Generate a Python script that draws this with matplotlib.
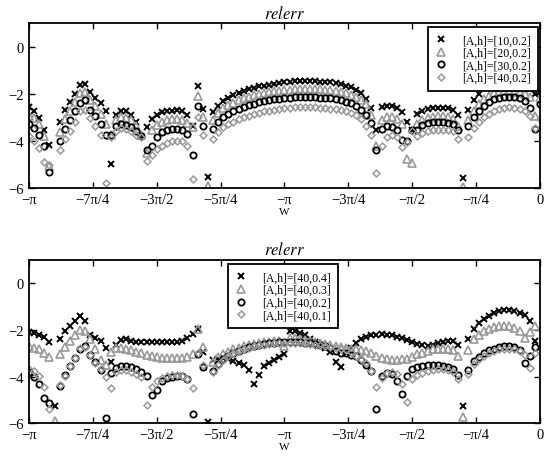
import numpy as np
import matplotlib
matplotlib.use('Agg')
import matplotlib.pyplot as plt

plt.rcParams['font.family'] = ['Liberation Serif', 'DejaVu Serif']
plt.rcParams['mathtext.fontset'] = 'stix'

nan = float('nan')
n_pts = 101
w = np.linspace(-2 * np.pi, 0, n_pts)

xtick_vals = [-2 * np.pi + k * np.pi / 4 for k in range(9)]
xtick_labels = ['−π', '−7π/4', '−3π/2', '−5π/4', '−π', '−3π/4', '−π/2', '−π/4', '0']
ytick_vals = [0, -2, -4, -6]
ytick_labels = ['0', '−2', '−4', '−6']

top_labels = ['[A,h]=[10,0.2]', '[A,h]=[20,0.2]', '[A,h]=[30,0.2]', '[A,h]=[40,0.2]']
bot_labels = ['[A,h]=[40,0.4]', '[A,h]=[40,0.3]', '[A,h]=[40,0.2]', '[A,h]=[40,0.1]']

# ---------------- top panel ----------------
top_A10 = [-2.57, -2.74, -3.02, -3.52, -4.17, nan, -3.18, -2.68, -2.34, -2.03,
           -1.62, -1.57, -1.93, -2.18, -2.41, -2.72, -4.99, -2.88, -2.71, -2.71,
           -2.92, -3.18, -3.8, -3.42, -3.06, -2.92, -2.78, -2.71, -2.71, -2.68,
           -2.74, -2.88, -3.35, -1.67, -2.64, -5.55, -2.78, -2.5, -2.3, -2.18,
           -2.07, -1.95, -1.87, -1.8, -1.74, -1.69, -1.65, -1.61, -1.57, -1.54,
           -1.51, -1.49, -1.47, -1.46, -1.46, -1.46, -1.47, -1.48, -1.5, -1.52,
           -1.55, -1.59, -1.65, -1.72, -1.82, -1.97, -2.22, -2.6, -3.55, -2.57,
           -2.5, -2.52, -2.62, -2.78, -3.2, -3.55, -2.85, -2.75, -2.66, -2.62,
           -2.6, -2.6, -2.62, -2.68, -2.9, -5.57, -2.68, -2.28, -2.0, -1.76,
           -1.6, -1.5, -1.45, -1.43, -1.43, -1.47, -1.55, -1.65, -1.8, -2.0,
           -1.93]
top_A20 = [-2.95, -3.03, -3.3, -3.78, -5.05, nan, -3.63, -3.06, -2.71, -2.35,
           -1.97, -1.93, -2.26, -2.5, -2.85, -3.28, -3.75, -3.13, -2.99, -3.03,
           -3.13, -3.35, -3.77, -4.5, -3.55, -3.32, -3.18, -3.1, -3.08, -3.08,
           -3.1, -3.25, -3.4, -2.11, -3.0, -5.9, -3.13, -2.8, -2.6, -2.48,
           -2.38, -2.28, -2.2, -2.13, -2.07, -2.02, -1.98, -1.94, -1.9, -1.87,
           -1.84, -1.82, -1.8, -1.79, -1.79, -1.79, -1.8, -1.81, -1.83, -1.85,
           -1.88, -1.92, -1.97, -2.04, -2.12, -2.25, -2.45, -2.9, -4.2, -3.1,
           -2.98, -2.98, -3.05, -3.3, -4.78, -4.95, -3.3, -3.1, -3.02, -2.98,
           -2.96, -2.96, -2.98, -3.05, -3.35, -5.95, -3.1, -2.72, -2.42, -2.22,
           -2.08, -1.98, -1.93, -1.9, -1.9, -1.92, -1.95, -2.0, -2.15, -2.95,
           -2.2]
top_A30 = [-3.28, -3.46, -3.73, -4.2, -5.33, nan, -4.0, -3.49, -3.13, -2.75,
           -2.38, -2.28, -2.67, -2.95, -3.28, -3.77, -3.74, -3.38, -3.28, -3.32,
           -3.42, -3.56, -3.8, -4.4, -4.2, -3.82, -3.63, -3.53, -3.49, -3.49,
           -3.52, -3.7, -4.6, -2.5, -3.38, nan, -3.49, -3.2, -3.0, -2.86,
           -2.75, -2.65, -2.56, -2.49, -2.42, -2.37, -2.32, -2.28, -2.24, -2.21,
           -2.19, -2.17, -2.15, -2.14, -2.14, -2.14, -2.15, -2.16, -2.18, -2.2,
           -2.23, -2.27, -2.33, -2.4, -2.5, -2.68, -2.92, -3.25, -4.4, -3.5,
           -3.38, -3.42, -3.52, -3.94, -3.99, -3.55, -3.55, -3.32, -3.25, -3.21,
           -3.2, -3.2, -3.22, -3.28, -3.55, nan, -3.38, -3.0, -2.72, -2.5,
           -2.35, -2.24, -2.17, -2.14, -2.14, -2.15, -2.2, -2.3, -2.6, -3.49,
           -2.43]
top_A40 = [-3.78, -3.99, -4.28, -4.9, -5.02, nan, -4.38, -3.91, -3.56, -3.2,
           -2.75, -2.67, -3.03, -3.38, -3.77, -5.79, -3.85, -3.56, -3.46, -3.49,
           -3.6, -3.74, -3.84, -4.85, -4.6, -4.35, -4.2, -4.08, -4.0, -3.99,
           -4.02, -4.2, -5.6, -3.0, -3.77, nan, -3.9, -3.62, -3.43, -3.3,
           -3.19, -3.09, -3.0, -2.93, -2.86, -2.8, -2.75, -2.71, -2.67, -2.64,
           -2.61, -2.59, -2.58, -2.57, -2.57, -2.57, -2.58, -2.59, -2.61, -2.63,
           -2.66, -2.7, -2.75, -2.82, -2.92, -3.08, -3.35, -3.75, -5.35, -4.2,
           -3.85, -3.75, -3.85, -4.25, -4.05, -3.6, -3.8, -3.65, -3.58, -3.55,
           -3.53, -3.53, -3.55, -3.6, -3.9, nan, -3.85, -3.45, -3.2, -3.0,
           -2.85, -2.72, -2.64, -2.6, -2.58, -2.6, -2.65, -2.75, -2.95, -3.46,
           -3.05]

# ---------------- bottom panel ----------------
bot_h04 = [-2.08, -2.12, -2.19, -2.29, -2.5, -5.24, -2.4, -2.02, -1.81, -1.6,
           -1.38, -1.63, -2.22, -2.35, -2.46, -2.76, -3.35, -2.62, -2.43, -2.4,
           -2.48, -2.5, -2.52, -2.52, -2.52, -2.52, -2.52, -2.52, -2.52, -2.5,
           -2.45, -2.35, -2.15, -1.97, -2.94, -5.95, -3.3, -3.22, -3.2, -3.25,
           -3.33, -3.4, -3.5, -3.7, -4.3, -3.94, -3.55, -3.4, -3.27, -3.14,
           -3.01, -2.02, -2.02, -2.12, -2.23, -2.38, -2.5, -2.62, -2.75, -2.95,
           -3.35, -3.6, -2.97, -2.75, -2.55, -2.38, -2.28, -2.22, -2.19, -2.18,
           -2.19, -2.22, -2.28, -2.35, -2.43, -2.52, -2.6, -2.66, -2.68, -2.64,
           -2.57, -2.5, -2.46, -2.45, -2.62, -5.24, -2.38, -1.95, -1.7, -1.52,
           -1.38, -1.27, -1.2, -1.16, -1.15, -1.18, -1.25, -1.34, -1.62, -2.48,
           nan]
bot_h03 = [-2.69, -2.76, -2.83, -2.97, -3.14, -5.88, -3.04, -2.72, -2.45, -2.2,
           -1.98, -2.02, -2.4, -2.8, -3.3, -3.5, -2.95, -2.78, -2.76, -2.8,
           -2.87, -2.94, -3.0, -3.06, -3.12, -3.16, -3.19, -3.21, -3.21, -3.2,
           -3.18, -3.14, -3.04, -1.95, -2.72, nan, -3.35, -3.15, -3.02, -2.92,
           -2.83, -2.75, -2.68, -2.63, -2.59, -2.55, -2.52, -2.5, -2.48, -2.47,
           -2.7, -2.33, -2.35, -2.38, -2.42, -2.46, -2.5, -2.55, -2.6, -2.65,
           -2.7, -2.73, -2.76, -2.8, -2.82, -2.85, -2.9, -2.97, -3.09, -3.18,
           -3.26, -3.28, -3.28, -3.26, -3.23, -3.14, -3.04, -2.97, -2.9, -2.83,
           -2.8, -2.8, -2.8, -2.86, -3.09, -5.74, -2.87, -2.4, -2.19, -2.05,
           -1.95, -1.87, -1.84, -1.84, -1.84, -1.91, -2.02, -2.33, -2.09, -1.84,
           nan]
bot_h02 = [-3.8, -4.0, -4.3, -4.89, -5.13, nan, -4.4, -3.92, -3.55, -3.2,
           -2.8, -2.7, -3.05, -3.35, -3.7, -5.75, -3.85, -3.62, -3.55, -3.52,
           -3.57, -3.65, -3.78, -3.97, -4.8, -4.55, -4.2, -4.05, -4.0, -3.98,
           -3.98, -4.1, -5.6, -3.02, -3.6, nan, -3.75, -3.45, -3.25, -3.1,
           -2.98, -2.88, -2.8, -2.73, -2.68, -2.64, -2.6, -2.57, -2.55, -2.53,
           -2.52, -2.52, -2.52, -2.53, -2.55, -2.57, -2.6, -2.64, -2.7, -2.78,
           -2.88, -3.0, -3.0, -3.05, -3.12, -3.3, -3.5, -3.75, -5.38, -3.97,
           -3.85, -3.9, -4.18, -4.74, -3.97, -3.68, -3.58, -3.54, -3.51, -3.5,
           -3.5, -3.52, -3.58, -3.65, -3.94, nan, -3.72, -3.33, -3.14, -2.97,
           -2.87, -2.8, -2.73, -2.69, -2.69, -2.72, -2.85, -3.43, -3.09, -2.72,
           nan]
bot_h01 = [-3.65, -3.75, -3.95, -4.45, -5.4, nan, -4.35, -3.95, -3.55, -3.2,
           -2.78, -2.72, -3.08, -3.43, -3.68, -4.0, -4.5, -3.8, -3.72, -3.72,
           -3.78, -3.87, -4.0, -5.21, -4.45, -4.2, -4.05, -3.95, -3.93, -3.93,
           -3.95, -4.1, -4.5, -2.98, -3.5, nan, -3.8, -3.5, -3.28, -3.12,
           -3.0, -2.9, -2.82, -2.75, -2.7, -2.65, -2.62, -2.59, -2.57, -2.55,
           -2.54, -2.54, -2.54, -2.55, -2.57, -2.59, -2.62, -2.65, -2.69, -2.73,
           -2.77, -2.81, -2.85, -2.95, -3.1, -3.25, -3.4, -3.75, -4.45, -4.05,
           -3.85, -3.78, -3.9, -4.3, -5.1, -4.1, -3.92, -3.82, -3.75, -3.7,
           -3.68, -3.68, -3.7, -3.78, -4.1, nan, -3.9, -3.47, -3.23, -3.09,
           -2.97, -2.88, -2.83, -2.8, -2.8, -2.83, -2.9, -3.05, -3.61, -2.97,
           nan]

styles = [
    dict(marker='x', color='k', markersize=3.8, markeredgewidth=1.4),
    dict(marker='^', color='0.6', markerfacecolor='none', markersize=6.2, markeredgewidth=1.2),
    dict(marker='o', color='k', markerfacecolor='none', markersize=4.5, markeredgewidth=1.3),
    dict(marker='D', color='0.6', markerfacecolor='none', markersize=3.5, markeredgewidth=1.1),
]

fig = plt.figure(figsize=(5.45, 4.6), dpi=100)
ax_top = fig.add_axes([0.0532, 0.589, 0.9376, 0.3587])
ax_bot = fig.add_axes([0.0532, 0.0772, 0.9376, 0.3554])


def draw(ax, series, labels, legend_anchor, legend_loc):
    for vals, lab, st in zip(series, labels, styles):
        ax.plot(w, vals, linestyle='none', label=lab, **st)
    ax.set_xlim(-2 * np.pi, 0)
    ax.set_ylim(-6, 1)
    ax.set_xticks(xtick_vals)
    ax.set_xticklabels(xtick_labels)
    ax.set_yticks(ytick_vals)
    ax.set_yticklabels(ytick_labels)
    ax.tick_params(direction='in', top=True, right=True, length=4, width=1.0,
                   labelsize=10.5)
    ax.tick_params(axis='x', pad=3.5)
    ax.tick_params(axis='y', pad=4)
    for sp in ax.spines.values():
        sp.set_linewidth(1.3)
    ax.set_title(r'$relerr$', fontsize=12, pad=4)
    ax.set_xlabel('W', fontsize=8, labelpad=0.5)
    leg = ax.legend(loc=legend_loc, bbox_to_anchor=legend_anchor, fontsize=8.5,
                    frameon=True, fancybox=False, edgecolor='k', framealpha=1,
                    borderaxespad=0, handlelength=1.0, handletextpad=1.3,
                    labelspacing=0.05, borderpad=0.6)
    leg.get_frame().set_linewidth(1.3)


draw(ax_top, [top_A10, top_A20, top_A30, top_A40], top_labels,
     (0.9967, 0.974), 'upper right')
draw(ax_bot, [bot_h04, bot_h03, bot_h02, bot_h01], bot_labels,
     (0.389, 0.973), 'upper left')

fig.savefig('out.png', dpi=100)
